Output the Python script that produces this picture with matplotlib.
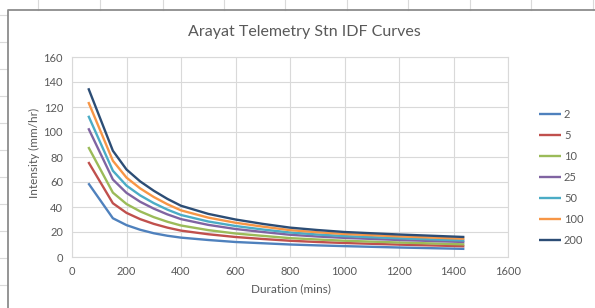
import matplotlib
matplotlib.use("Agg")
import matplotlib.pyplot as plt
from matplotlib.lines import Line2D

# durations (mins) and intensities (mm/hr)
duration = [60, 150, 200, 250, 300, 350, 400, 500, 600, 700, 800, 900, 1000, 1200, 1440]
rp_2 = [59, 31, 25.5, 21.8, 19, 17, 15.5, 13.6, 12, 11, 10, 9.3, 8.7, 7.6, 6.5]
rp_5 = [76, 43, 35.3, 30.3, 26.5, 23.5, 21.1, 18.2, 16, 14.4, 13, 12, 11.2, 9.9, 8.6]
rp_10 = [88, 51.5, 42.4, 36.5, 31.9, 28.2, 25.2, 21.5, 18.8, 16.9, 15.1, 14, 13, 11.6, 10.1]
rp_25 = [103, 62, 51.3, 44.2, 38.7, 34.1, 30.3, 25.7, 22.4, 20, 17.8, 16.4, 15.3, 13.6, 12]
rp_50 = [113, 69, 57.1, 49.3, 43.1, 37.9, 33.6, 28.4, 24.8, 22, 19.6, 18, 16.7, 15, 13.2]
rp_100 = [124, 77, 63.5, 54.9, 48, 42.2, 37.3, 31.5, 27.4, 24.3, 21.5, 19.8, 18.4, 16.5, 14.6]
rp_200 = [135, 85, 70, 60.5, 53, 46.5, 41, 34.5, 30, 26.5, 23.5, 21.6, 20, 18, 16]

labels = ["2", "5", "10", "25", "50", "100", "200"]
series = [rp_2, rp_5, rp_10, rp_25, rp_50, rp_100, rp_200]
colors = ["#4F81BD", "#C0504D", "#9BBB59", "#8064A2", "#4BACC6", "#F79646", "#2C4D75"]

plt.rcParams['font.family'] = ['Lato', 'DejaVu Sans']
txt = "#595959"
grid = "#D9D9D9"

W, H = 595, 308
fig = plt.figure(figsize=(W / 100, H / 100), dpi=100)
fig.patch.set_facecolor("white")

# spreadsheet cell lines behind the chart
for x in [38, 100, 163, 224, 285, 347, 408, 470, 531, 593]:
    fig.add_artist(Line2D([x / W, x / W], [1, 1 - 10 / H], color="#DADADA", lw=0.8))
for y in range(15, 308, 27):
    fig.add_artist(Line2D([0, 7 / W], [1 - y / H, 1 - y / H], color="#DADADA", lw=0.8))
# chart area border
fig.add_artist(Line2D([8 / W, 8 / W, 1], [0, 1 - 10 / H, 1 - 10 / H], color="#8C8C8C", lw=1.3))

ax = fig.add_axes([72 / W, 1 - 257 / H, 436 / W, 200 / H])

for lab, vals, c in zip(labels, series, colors):
    ax.plot(duration, vals, color=c, lw=1.7, label=lab, solid_capstyle="butt",
            solid_joinstyle="round")

ax.set_xlim(0, 1600)
ax.set_ylim(0, 160)
ax.set_xticks(range(0, 1601, 200))
ax.set_yticks(range(0, 161, 20))
ax.grid(True, color=grid, lw=0.8)
ax.set_axisbelow(True)
for s in ax.spines.values():
    s.set_color(grid)
    s.set_linewidth(0.8)
ax.tick_params(length=0, labelsize=8, labelcolor=txt, pad=6.5)

ax.set_xlabel("Duration (mins)", fontsize=8.5, color=txt)
ax.xaxis.set_label_coords(0.502, -0.13)
ax.set_ylabel("Intensity (mm/hr)", fontsize=8.5, color=txt)
ax.yaxis.set_label_coords(-0.074, 0.52)

fig.text(304 / W, 1 - 32 / H, "Arayat Telemetry Stn IDF Curves", fontsize=11.5,
         color=txt, ha="center", va="center")

leg = ax.legend(loc="upper left", bbox_to_anchor=(539 / W, 1 - 109 / H),
                bbox_transform=fig.transFigure, frameon=False, fontsize=8,
                handlelength=2.0, handletextpad=0.25, labelspacing=0.9,
                borderaxespad=0, borderpad=0)
for t in leg.get_texts():
    t.set_color(txt)

fig.savefig("out.png", dpi=100)
